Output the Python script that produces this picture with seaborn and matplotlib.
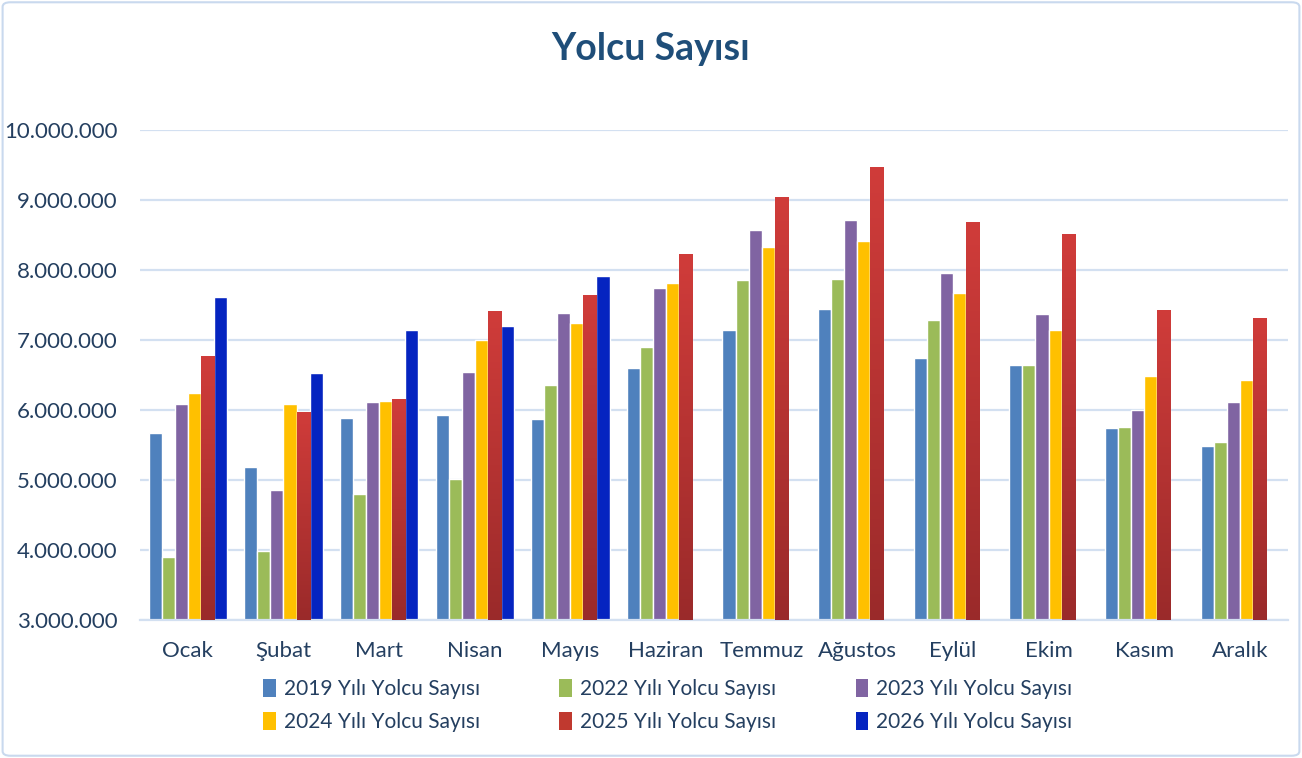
import numpy as np
import pandas as pd
import matplotlib
matplotlib.use("Agg")
import matplotlib.pyplot as plt
import seaborn as sns
from matplotlib.ticker import FuncFormatter, FixedLocator
from matplotlib.patches import FancyBboxPatch, Patch
from matplotlib.colors import LinearSegmentedColormap

# ===== Veriler =====
aylar = ["Ocak", "Şubat", "Mart", "Nisan", "Mayıs", "Haziran",
         "Temmuz", "Ağustos", "Eylül", "Ekim", "Kasım", "Aralık"]

y2019 = [5670000, 5180000, 5890000, 5930000, 5870000, 6600000,
         7140000, 7440000, 6750000, 6650000, 5740000, 5490000]
y2022 = [3900000, 3980000, 4800000, 5010000, 6360000, 6900000,
         7860000, 7870000, 7280000, 6640000, 5760000, 5550000]
y2023 = [6090000, 4860000, 6120000, 6550000, 7390000, 7750000,
         8570000, 8720000, 7960000, 7370000, 6000000, 6110000]
y2024 = [6240000, 6080000, 6130000, 7000000, 7250000, 7810000,
         8330000, 8420000, 7670000, 7140000, 6480000, 6430000]
y2025 = [6770000, 5970000, 6160000, 7420000, 7640000, 8230000,
         9040000, 9470000, 8680000, 8520000, 7430000, 7320000]
y2026 = [7610000, 6530000, 7150000, 7200000, 7910000, 0,
         0, 0, 0, 0, 0, 0]

seri_adlari = ["2019 Yılı Yolcu Sayısı", "2022 Yılı Yolcu Sayısı",
               "2023 Yılı Yolcu Sayısı", "2024 Yılı Yolcu Sayısı",
               "2025 Yılı Yolcu Sayısı", "2026 Yılı Yolcu Sayısı"]
renkler = ["#4F81BD", "#9BBB59", "#8064A2", "#FFC000", "#C0392F", "#0524C0"]

# uzun formatta tablo
seriler = [y2019, y2022, y2023, y2024, y2025, y2026]
df = pd.DataFrame({
    "Ay": aylar * len(seriler),
    "Seri": np.repeat(seri_adlari, len(aylar)),
    "Yolcu": np.concatenate(seriler),
})

sns.set_style("white")
plt.rcParams['font.family'] = ['Lato', 'DejaVu Sans']
yazi_rengi = "#243F60"
izgara_rengi = "#D3E0F1"

fig = plt.figure(figsize=(13.02, 7.58), dpi=100)
ax = fig.add_axes([0.1075, 0.182, 0.8815, 0.6465])

sns.barplot(data=df, x="Ay", y="Yolcu", hue="Seri", order=aylar,
            hue_order=seri_adlari, palette=renkler, width=0.82,
            saturation=1, ax=ax, legend=False, zorder=2)

# 2025 serisi için dikey renk geçişi (Excel gradyanı gibi)
cmap = LinearSegmentedColormap.from_list("kirmizi", ["#9A2A2A", "#D03C3A"])
gradyan = np.linspace(0, 1, 256).reshape(-1, 1)
for bar in ax.containers[4]:
    x0, w, h = bar.get_x(), bar.get_width(), bar.get_height()
    if h <= 3000000:
        continue
    im = ax.imshow(gradyan, cmap=cmap, origin="lower", aspect="auto",
                   extent=[x0, x0 + w, 3000000, h], zorder=3)
    im.set_clip_path(bar)

ax.set_xlim(-0.5, 11.5)
ax.set_ylim(3000000, 10000000)
ax.yaxis.set_major_locator(FixedLocator(np.arange(3000000, 10000001, 1000000)))
ax.yaxis.set_major_formatter(FuncFormatter(lambda v, p: f"{int(v):,}".replace(",", ".")))
ax.grid(axis="y", color=izgara_rengi, linewidth=1.6, zorder=0)
ax.set_axisbelow(True)

ax.set_xlabel("")
ax.set_ylabel("")
ax.tick_params(axis="y", length=0, labelsize=16, labelcolor=yazi_rengi, pad=16)
ax.tick_params(axis="x", which="major", length=0, labelsize=16,
               labelcolor=yazi_rengi, pad=15)
ax.set_xticks(np.arange(-0.5, 12, 1), minor=True)
ax.tick_params(axis="x", which="minor", length=9, width=1.6, color=izgara_rengi)

for s in ["left", "right", "top"]:
    ax.spines[s].set_visible(False)
ax.spines["bottom"].set_color(izgara_rengi)
ax.spines["bottom"].set_linewidth(1.6)

fig.text(0.5, 0.935, "Yolcu Sayısı", ha="center", va="center",
         fontsize=27, fontweight="bold", color="#1F4E79")

# lejant: satır sırasına göre yerleşim
sira = [0, 3, 1, 4, 2, 5]
tutamaklar = [Patch(facecolor=renkler[i], edgecolor="none") for i in sira]
etiketler = [seri_adlari[i] for i in sira]
fig.legend(tutamaklar, etiketler, ncol=3, loc="center",
           bbox_to_anchor=(0.513, 0.0695), frameon=False, fontsize=15,
           labelcolor=yazi_rengi, handlelength=0.6, handleheight=1.0,
           handletextpad=0.4, columnspacing=3.8, labelspacing=0.6)

# çerçeve
fig.patches.append(FancyBboxPatch((0.002, 0.003), 0.996, 0.994,
                                  boxstyle="round,pad=0,rounding_size=0.006",
                                  transform=fig.transFigure, fill=False,
                                  edgecolor="#C9D9EE", linewidth=1.5))

fig.savefig("out.png", dpi=100)
